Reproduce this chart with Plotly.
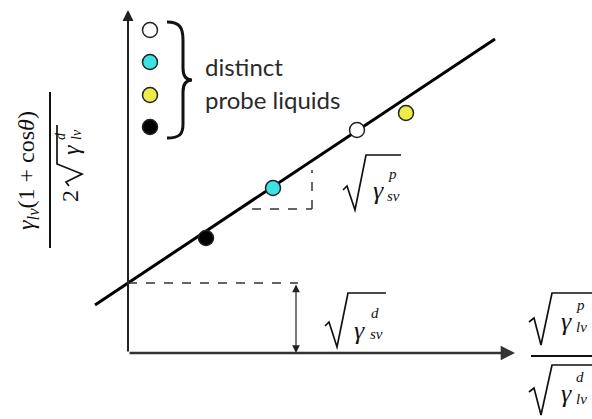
import plotly.graph_objects as go

W, H = 592, 419

# Owens–Wendt style linear fit: intercept = sqrt(gamma_sv^d), slope = sqrt(gamma_sv^p)
intercept = 0.70
slope = 0.665
line_x = [-0.33, 3.67]

# Probe liquids (x = sqrt(gl^p)/sqrt(gl^d), y = gl(1+cos)/2sqrt(gl^d))
liquid_x = [0.78, 1.45, 2.29, 2.78]
liquid_y = [1.15, 1.65, 2.23, 2.40]
liquid_colors = ["#000000", "#3fe2e2", "#ffffff", "#ecec4a"]

# Legend order (top to bottom)
legend_colors = ["#ffffff", "#3fe2e2", "#ecec4a", "#000000"]
legend_text = ["distinct", "probe liquids"]

X_END, Y_END = 3.87, 3.43

# pixel -> data helpers for decorations (origin at the axes corner, 100 px per unit)
def dx(px):
    return (px - 128) / 100.0

def dy(py):
    return (353 - py) / 100.0

def poly(pts):
    return "M " + " L ".join(f"{dx(x):.3f},{dy(y):.3f}" for x, y in pts)

def pt(p):
    return f"{dx(p[0]):.3f},{dy(p[1]):.3f}"

fig = go.Figure()

line_y = [intercept + slope * x for x in line_x]
fig.add_trace(go.Scatter(x=line_x, y=line_y, mode="lines",
                         line=dict(color="#000000", width=3), hoverinfo="skip"))

fig.add_trace(go.Scatter(x=liquid_x, y=liquid_y, mode="markers",
                         marker=dict(size=15, color=liquid_colors,
                                     line=dict(color="#222222", width=1.5)),
                         hoverinfo="skip"))

leg_py = [30, 62, 95, 127]
fig.add_trace(go.Scatter(x=[dx(150)] * 4, y=[dy(p) for p in leg_py], mode="markers",
                         marker=dict(size=15, color=legend_colors,
                                     line=dict(color="#222222", width=1.5)),
                         hoverinfo="skip"))

shapes = []
ann = []

# axes with arrow heads
ann.append(dict(x=X_END, y=0, ax=0, ay=0, xref="x", yref="y", axref="x", ayref="y",
                text="", showarrow=True, arrowhead=2, arrowsize=1.1, arrowwidth=2.6,
                arrowcolor="#333333", standoff=0))
ann.append(dict(x=0, y=Y_END, ax=0, ay=0, xref="x", yref="y", axref="x", ayref="y",
                text="", showarrow=True, arrowhead=2, arrowsize=1.1, arrowwidth=2,
                arrowcolor="#222222", standoff=0))

# intercept guide and double arrow
shapes.append(dict(type="line", x0=0, x1=dx(298), y0=intercept, y1=intercept,
                   line=dict(color="#333333", width=1.5, dash="dash")))
ann.append(dict(x=dx(296), y=0, ax=dx(296), ay=intercept, xref="x", yref="y",
                axref="x", ayref="y", text="", showarrow=True, arrowhead=2,
                startarrowhead=2, arrowside="end+start", arrowsize=1.3,
                startarrowsize=1.3, arrowwidth=1.2, arrowcolor="#222222", standoff=0,
                startstandoff=0))

# slope triangle
tx0, tx1 = dx(252), dx(312)
shapes.append(dict(type="line", x0=tx0, x1=tx1, y0=dy(209), y1=dy(209),
                   line=dict(color="#333333", width=1.5, dash="dash")))
shapes.append(dict(type="line", x0=tx1, x1=tx1, y0=dy(209), y1=dy(170),
                   line=dict(color="#333333", width=1.5, dash="dash")))

# curly brace
brace = ("M " + pt((167, 22)) + " C " + pt((180, 22)) + " " + pt((183, 28)) + " " + pt((183, 40))
         + " L " + pt((183, 68)) + " C " + pt((183, 76)) + " " + pt((186, 80)) + " " + pt((192, 80))
         + " C " + pt((186, 80)) + " " + pt((183, 84)) + " " + pt((183, 92))
         + " L " + pt((183, 124)) + " C " + pt((183, 134)) + " " + pt((180, 138)) + " " + pt((167, 138)))
shapes.append(dict(type="path", path=brace, line=dict(color="#111111", width=3)))

sans = "Lato, Open Sans, sans-serif"
ann.append(dict(x=dx(203), y=dy(66), text=legend_text[0], showarrow=False,
                xanchor="left", yanchor="middle", font=dict(family=sans, size=24, color="#2a2a2a")))
ann.append(dict(x=dx(203), y=dy(99), text=legend_text[1], showarrow=False,
                xanchor="left", yanchor="middle", font=dict(family=sans, size=24, color="#2a2a2a")))

serif = "Liberation Serif, DejaVu Serif, serif"

def gamma_label(gx, gy, sup, sub, sup_xy, sub_xy, size=26, small=15, angle=0):
    ann.append(dict(x=dx(gx), y=dy(gy), text="<i>γ</i>", showarrow=False, textangle=angle,
                    xanchor="center", yanchor="middle", font=dict(family=serif, size=size, color="#111111")))
    ann.append(dict(x=dx(sup_xy[0]), y=dy(sup_xy[1]), text=f"<i>{sup}</i>", showarrow=False,
                    textangle=angle, xanchor="center", yanchor="middle",
                    font=dict(family=serif, size=small, color="#111111")))
    ann.append(dict(x=dx(sub_xy[0]), y=dy(sub_xy[1]), text=f"<i>{sub}</i>", showarrow=False,
                    textangle=angle, xanchor="center", yanchor="middle",
                    font=dict(family=serif, size=small, color="#111111")))

def radical(pts, width=1.7):
    shapes.append(dict(type="path", path=poly(pts), line=dict(color="#111111", width=width)))

# sqrt(gamma_sv^p)
radical([(343, 190), (347, 186), (355, 210), (366, 155), (401, 155)])
gamma_label(378, 190, "p", "sv", (392, 174), (393, 196))

# sqrt(gamma_sv^d)
radical([(325, 326), (329, 322), (337, 347), (348, 293), (386, 293)])
gamma_label(359, 330, "d", "sv", (375, 313), (376, 334))

# x-axis label: sqrt(gl^p) / sqrt(gl^d)
radical([(529, 322), (534, 318), (541, 345), (552, 293), (600, 293)])
gamma_label(566, 321, "p", "lv", (580, 305), (581, 327))
shapes.append(dict(type="line", x0=dx(531), x1=dx(600), y0=dy(356), y1=dy(356),
                   line=dict(color="#111111", width=2)))
radical([(529, 392), (534, 388), (541, 415), (552, 365), (600, 365)])
gamma_label(566, 393, "d", "lv", (580, 377), (581, 399))

# y-axis label (rotated fraction)
ann.append(dict(x=dx(28), y=dy(171), text="<i>γ</i><sub><i>lv</i></sub>(1 + cos<i>θ</i>)",
                showarrow=False, textangle=-90, xanchor="center", yanchor="middle",
                font=dict(family=serif, size=24, color="#111111")))
shapes.append(dict(type="line", x0=dx(50), x1=dx(50), y0=dy(92), y1=dy(248),
                   line=dict(color="#111111", width=2)))
ann.append(dict(x=dx(70), y=dy(196), text="2", showarrow=False, textangle=-90,
                xanchor="center", yanchor="middle", font=dict(family=serif, size=24, color="#111111")))
radical([(69, 186), (66, 182), (82, 174), (57, 164), (57, 125)])
gamma_label(71, 150, "d", "lv", (60, 136), (76, 135), size=24, small=14, angle=-90)

fig.update_layout(
    width=W, height=H, margin=dict(l=0, r=0, t=0, b=0),
    paper_bgcolor="white", plot_bgcolor="white", showlegend=False,
    xaxis=dict(range=[dx(0), dx(W)], visible=False, fixedrange=True),
    yaxis=dict(range=[dy(H), dy(0)], visible=False, fixedrange=True),
    shapes=shapes, annotations=ann,
)

fig.write_html("out.html", config={"displayModeBar": False})
